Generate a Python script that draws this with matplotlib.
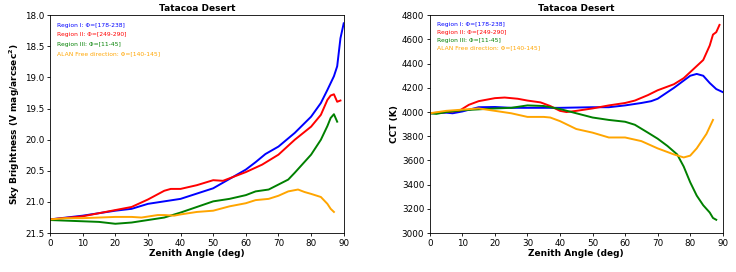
import matplotlib
matplotlib.use("Agg")
import matplotlib.pyplot as plt

title = "Tatacoa Desert"
labels = ["Region I: Φ=[178-238]", "Region II: Φ=[249-290]",
          "Region III: Φ=[11-45]", "ALAN Free direction: Φ=[140-145]"]
colors = ["blue", "red", "green", "orange"]

# Sky brightness (left)
sb_blue_x = [0, 10, 20, 25, 30, 40, 50, 60, 63, 66, 70, 75, 80, 83, 85, 87, 88, 89, 90]
sb_blue_y = [21.28, 21.22, 21.14, 21.11, 21.03, 20.95, 20.78, 20.48, 20.36, 20.23, 20.11, 19.89, 19.63, 19.41, 19.2, 18.98, 18.82, 18.37, 18.13]
sb_red_x = [0, 10, 20, 25, 30, 35, 37, 40, 45, 50, 53, 55, 60, 65, 70, 75, 80, 83, 85, 86, 87, 88, 89]
sb_red_y = [21.28, 21.23, 21.13, 21.08, 20.96, 20.82, 20.79, 20.79, 20.73, 20.65, 20.66, 20.62, 20.52, 20.4, 20.24, 20.0, 19.79, 19.6, 19.36, 19.29, 19.27, 19.39, 19.37]
sb_green_x = [0, 10, 15, 20, 25, 30, 35, 40, 45, 50, 55, 60, 63, 67, 70, 73, 75, 80, 83, 85, 86, 87, 88]
sb_green_y = [21.29, 21.31, 21.32, 21.35, 21.33, 21.29, 21.25, 21.17, 21.08, 20.99, 20.95, 20.89, 20.83, 20.8, 20.72, 20.64, 20.53, 20.24, 20.0, 19.78, 19.65, 19.59, 19.71]
sb_orange_x = [0, 5, 10, 20, 25, 28, 33, 35, 38, 40, 45, 50, 55, 60, 63, 67, 70, 73, 76, 78, 80, 83, 85, 86, 87]
sb_orange_y = [21.28, 21.26, 21.26, 21.24, 21.24, 21.25, 21.21, 21.21, 21.22, 21.2, 21.16, 21.14, 21.07, 21.02, 20.97, 20.95, 20.9, 20.83, 20.8, 20.84, 20.87, 20.92, 21.03, 21.11, 21.16]

# CCT (right)
cct_blue_x = [0, 5, 7, 10, 15, 20, 25, 30, 40, 50, 55, 60, 65, 68, 70, 75, 80, 82, 84, 86, 88, 90]
cct_blue_y = [3990, 3995, 3990, 4005, 4040, 4042, 4035, 4035, 4035, 4040, 4040, 4055, 4075, 4090, 4110, 4200, 4300, 4315, 4300, 4240, 4190, 4165]
cct_red_x = [0, 5, 9, 12, 15, 20, 23, 27, 30, 34, 37, 40, 42, 45, 50, 55, 60, 63, 67, 70, 75, 78, 80, 84, 86, 87, 88, 89]
cct_red_y = [3990, 4000, 4010, 4060, 4090, 4115, 4120, 4110, 4095, 4080, 4050, 4010, 4000, 4010, 4030, 4055, 4075, 4095, 4140, 4180, 4230, 4280, 4330, 4430, 4550, 4640, 4660, 4720]
cct_green_x = [0, 2, 5, 10, 20, 25, 30, 35, 40, 45, 50, 55, 60, 63, 67, 70, 73, 76, 78, 80, 82, 84, 86, 87, 88]
cct_green_y = [3990, 3985, 4000, 4015, 4030, 4035, 4055, 4050, 4025, 3990, 3955, 3935, 3920, 3895, 3830, 3780, 3720, 3650, 3550, 3420, 3310, 3230, 3170, 3125, 3110]
cct_orange_x = [0, 5, 10, 15, 20, 25, 30, 35, 37, 40, 45, 50, 55, 60, 65, 70, 75, 78, 80, 82, 85, 87]
cct_orange_y = [3990, 4010, 4020, 4030, 4010, 3990, 3960, 3960, 3955, 3925, 3860, 3830, 3790, 3790, 3760, 3700, 3650, 3625, 3640, 3700, 3820, 3935]

fig = plt.figure(figsize=(7.36, 2.72), dpi=100)
ax1 = fig.add_axes([0.068, 0.143, 0.399, 0.801])
ax2 = fig.add_axes([0.584, 0.143, 0.398, 0.801])

sb = [(sb_blue_x, sb_blue_y), (sb_red_x, sb_red_y), (sb_green_x, sb_green_y), (sb_orange_x, sb_orange_y)]
cct = [(cct_blue_x, cct_blue_y), (cct_red_x, cct_red_y), (cct_green_x, cct_green_y), (cct_orange_x, cct_orange_y)]

for (x, y), c in zip(sb, colors):
    ax1.plot(x, y, color=c, lw=1.4)
for (x, y), c in zip(cct, colors):
    ax2.plot(x, y, color=c, lw=1.4)

ax1.set_xlim(0, 90)
ax1.set_ylim(21.5, 18.0)
ax1.set_yticks([18.0, 18.5, 19.0, 19.5, 20.0, 20.5, 21.0, 21.5])
ax1.set_xticks(range(0, 91, 10))
ax1.set_ylabel("Sky Brightness (V mag/arcsec$^\\mathbf{2}$)", fontsize=6.5, fontweight="bold", labelpad=2)

ax2.set_xlim(0, 90)
ax2.set_ylim(3000, 4800)
ax2.set_yticks(range(3000, 4801, 200))
ax2.set_xticks(range(0, 91, 10))
ax2.set_ylabel("CCT (K)", fontsize=6.5, fontweight="bold", labelpad=2)

for ax in (ax1, ax2):
    ax.set_title(title, fontsize=6.5, fontweight="bold", pad=3)
    ax.set_xlabel("Zenith Angle (deg)", fontsize=6.5, fontweight="bold", labelpad=1)
    ax.tick_params(labelsize=6.3, length=2.5, width=0.6, pad=1.5)
    for s in ax.spines.values():
        s.set_linewidth(0.6)

for i, (lab, c) in enumerate(zip(labels, colors)):
    ax1.text(0.024, 0.953 - i * 0.0436, lab, color=c, fontsize=4.3,
             transform=ax1.transAxes, va="center", ha="left")
    ax2.text(0.024, 0.957 - i * 0.0355, lab, color=c, fontsize=4.3,
             transform=ax2.transAxes, va="center", ha="left")

fig.savefig("out.png", dpi=100)
